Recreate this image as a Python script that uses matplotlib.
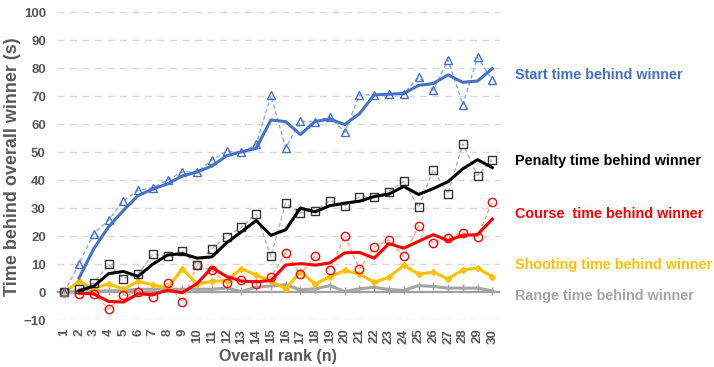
import matplotlib
matplotlib.use("Agg")
import matplotlib.pyplot as plt
import numpy as np
import pandas as pd

plt.rcParams['font.family'] = ['Liberation Sans', 'DejaVu Sans']

ranks = list(range(1, 31))

start_time = [0, 10.2, 21, 25.7, 32.7, 36.4, 37.4, 40.1, 43, 43, 47.2, 50.3, 50, 52.8, 70.3,
              51.6, 61.1, 61, 62.7, 57.1, 70.5, 70.5, 71, 71, 76.8, 72.3, 83, 67, 83.9, 75.9]
penalty_time = [0, 1.1, 3.3, 10, 4.9, 6.5, 13.6, 13, 14.6, 9.8, 15.5, 19.9, 23.3, 27.9, 12.8,
                31.9, 28.3, 29.2, 32.7, 30.9, 34.2, 34.2, 36, 39.6, 30.3, 43.8, 35.2, 53, 41.7, 47.4]
course_time = [0, -0.6, -0.6, -5.9, -1.1, 0, -1.7, 3.2, -3.5, 9.8, 7.8, 3.5, 4.5, 3.0, 5.4,
               14.1, 6.4, 13, 8, 20.2, 8.3, 16.1, 18.7, 12.8, 23.6, 17.6, 19.4, 21.3, 19.9, 32.4]
shooting_time = [0, 3.9, 1.3, 3.1, 1.1, 3.9, 2.7, 1.5, 8.4, 2.9, 3.9, 4.2, 8.4, 6.2, 3.9,
                 1.3, 7.4, 2.9, 5.6, 7.8, 6.5, 3.6, 5.4, 9.6, 6.5, 7.2, 4.8, 8.0, 8.6, 5.6]
range_time = [0, 0.3, 0.5, 0.5, 0.6, 1.1, 1.1, 1.1, 1.1, 1.1, 1.1, 1.5, 0.3, 1.8, 2.3,
              2.7, 0.9, 1.25, 2.4, 0.3, 1.25, 1.8, 1.0, 0.65, 2.4, 2.1, 1.5, 1.5, 1.5, 0.5]

series_labels = ["Start time behind winner", "Penalty time behind winner",
                 "Course  time behind winner", "Shooting time behind winner",
                 "Range time behind winner"]
y_ticks = list(range(-10, 101, 10))

BLUE = '#4472C4'
RED = '#FF0000'
YELLOW = '#FFC000'
GRAY = '#A5A5A5'
TXT = '#595959'


def moving_avg(vals):
    # two-period moving average trendline
    return pd.Series(vals).rolling(2).mean().to_numpy()


fig = plt.figure(figsize=(7.14, 3.67), dpi=100)
ax = fig.add_axes([56.9 / 714, 1 - 320.3 / 367, (499.7 - 56.9) / 714, (320.3 - 12.3) / 367])

x = np.array(ranks)

# grid
for t in y_ticks:
    if t == 0:
        continue
    ax.axhline(t, color='#D9D9D9', lw=1.0, ls=(0, (5, 4)), zorder=0)
ax.axhline(0, color='#A0A0A0', lw=1.6, zorder=1)

# range and shooting
ax.plot(x, range_time, color=GRAY, lw=2.2, marker='+', ms=6, mew=1.0, zorder=3)
ax.plot(x, shooting_time, color=YELLOW, lw=2.2, marker='D', ms=3, zorder=4)

# course
ax.plot(x, course_time, color='#F4A582', lw=1.0, ls=(0, (3, 2)), marker='o', ms=6,
        mfc='none', mec=RED, mew=1.0, zorder=5)
ax.plot(x, moving_avg(course_time), color=RED, lw=2.2, zorder=6)

# penalty
ax.plot(x, penalty_time, color='#B0B0B0', lw=1.0, ls=(0, (3, 2)), marker='s', ms=6,
        mfc='none', mec='#333333', mew=1.0, zorder=5)
ax.plot(x, moving_avg(penalty_time), color='black', lw=2.2, zorder=6)

# start
ax.plot(x, start_time, color='#8FAADC', lw=1.0, ls=(0, (3, 2)), marker='^', ms=6,
        mfc='none', mec=BLUE, mew=1.0, zorder=5)
ax.plot(x, moving_avg(start_time), color=BLUE, lw=2.2, zorder=6)

ax.set_xlim(0.5, 30.5)
ax.set_ylim(-10, 100)
ax.set_yticks(y_ticks)
ax.set_xticks(x)
ax.set_xticklabels([str(r) for r in ranks], rotation=90)
for s in ax.spines.values():
    s.set_visible(False)
ax.tick_params(axis='both', length=0, labelsize=9.5, labelcolor=TXT)
ax.tick_params(axis='y', pad=8)
ax.tick_params(axis='x', pad=6)
for lab in ax.get_xticklabels() + ax.get_yticklabels():
    lab.set_fontweight('bold')

ax.set_xlabel("Overall rank (n)", fontsize=11.5, fontweight='bold', color=TXT, labelpad=4)
ax.set_ylabel("Time behind overall winner (s)", fontsize=13, fontweight='bold', color=TXT,
              labelpad=2)

# series labels to the right of the plot
label_colors = [BLUE, 'black', RED, YELLOW, GRAY]
label_y = [75, 161.5, 213.5, 265.5, 296]
for text, col, py in zip(series_labels, label_colors, label_y):
    fig.text(515 / 714, 1 - py / 367, text, color=col, fontsize=10.4, fontweight='bold',
             ha='left', va='center')

fig.savefig("out.png", dpi=100)
